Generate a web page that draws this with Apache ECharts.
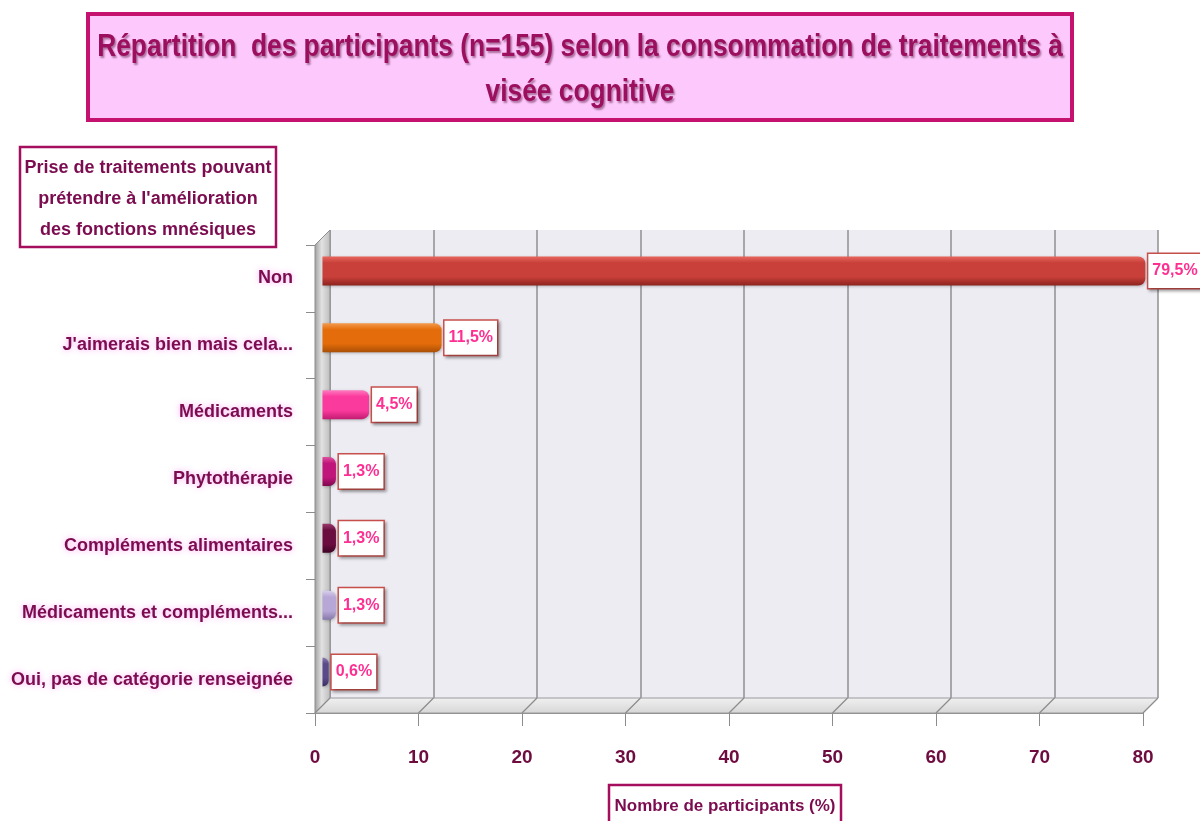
<!DOCTYPE html>
<html>
<head>
<meta charset="utf-8">
<script src="https://cdn.jsdelivr.net/npm/echarts@6/dist/echarts.min.js"></script>
<style>
  html, body { margin: 0; padding: 0; background: #ffffff; }
  #chart { width: 1200px; height: 821px; }
</style>
</head>
<body>
<div id="chart"></div>
<script>
// ---- data ----
const categories = [
  'Non',
  "J'aimerais bien mais cela...",
  'Médicaments',
  'Phytothérapie',
  'Compléments alimentaires',
  'Médicaments et compléments...',
  'Oui, pas de catégorie renseignée'
];
const percentValues = [79.5, 11.5, 4.5, 1.3, 1.3, 1.3, 0.6];
const axisMax = 80;
const axisStep = 10;
const titleLines = [
  'Répartition  des participants (n=155) selon la consommation de traitements à',
  'visée cognitive'
];
const yAxisTitleLines = [
  'Prise de traitements pouvant',
  "prétendre à l'amélioration",
  'des fonctions mnésiques'
];
const xAxisTitle = 'Nombre de participants (%)';

// ---- styles ----
const barColors = [
  ['#e8675e', '#c9403a', '#8e231e'],
  ['#f49a4c', '#e46c0a', '#a94f06'],
  ['#ff7cc0', '#fb3a9d', '#c21c72'],
  ['#e0509f', '#c0157a', '#80084f'],
  ['#9a3a6c', '#6a0e3f', '#3e0524'],
  ['#d9cfee', '#b6a7d6', '#8778ab'],
  ['#8a7ab4', '#5b4a8a', '#3a2c60']
];
const FONT = '"Liberation Sans", Arial, sans-serif';
const PLUM = '#7b0c4f';

// Plot box (front plane) and the depth shift of the pseudo-3D walls
const PLOT = { left: 315, top: 245, width: 828, height: 468 };
const DEPTH = 15;

const chart = echarts.init(document.getElementById('chart'));

function gridAt(shift, extra) {
  return Object.assign({
    left: PLOT.left + shift,
    top: PLOT.top - shift,
    width: PLOT.width,
    height: PLOT.height,
    containLabel: false
  }, extra || {});
}

function fmtPct(v) {
  return String(v).replace('.', ',') + '%';
}

// Decorative walls: left side wall, floor and the floor's slanted grid lines
function buildWalls() {
  const L = PLOT.left, T = PLOT.top, B = PLOT.top + PLOT.height, R = PLOT.left + PLOT.width;
  const els = [];
  els.push({
    type: 'polygon', z: 1,
    shape: { points: [[L, T], [L + DEPTH, T - DEPTH], [L + DEPTH, B - DEPTH], [L, B]] },
    style: {
      fill: new echarts.graphic.LinearGradient(0, 0, 1, 0, [
        { offset: 0, color: '#9d9d9d' },
        { offset: 0.45, color: '#e2e2e2' },
        { offset: 1, color: '#bcbcbc' }
      ]),
      stroke: '#8c8c8c', lineWidth: 1
    }
  });
  els.push({
    type: 'polygon', z: 1,
    shape: { points: [[L, B], [R, B], [R + DEPTH, B - DEPTH], [L + DEPTH, B - DEPTH]] },
    style: {
      fill: new echarts.graphic.LinearGradient(0, 0, 0, 1, [
        { offset: 0, color: '#f1f1f1' },
        { offset: 1, color: '#d6d6d6' }
      ]),
      stroke: '#9a9a9a', lineWidth: 1
    }
  });
  const n = axisMax / axisStep;
  for (let i = 0; i <= n; i++) {
    const x = L + PLOT.width * i / n;
    els.push({
      type: 'line', z: 2,
      shape: { x1: x, y1: B, x2: x + DEPTH, y2: B - DEPTH },
      style: { stroke: '#8c8c8c', lineWidth: 1.2 }
    });
  }
  return els;
}

function boxedText(x, y, w, h, lines, opts) {
  const cx = x + w / 2;
  const cy = opts.textY != null ? opts.textY : y + h / 2;
  return [
    {
      type: 'rect', z: 10,
      shape: { x: x, y: y, width: w, height: h },
      style: { fill: opts.fill, stroke: opts.stroke, lineWidth: opts.lineWidth }
    },
    {
      type: 'text', z: 11,
      x: cx, y: cy,
      scaleX: opts.scaleX || 1,
      style: {
        text: lines.join('\n'),
        align: 'center', verticalAlign: 'middle',
        font: 'bold ' + opts.fontSize + 'px ' + FONT,
        lineHeight: opts.lineHeight,
        fill: opts.color,
        textShadowColor: opts.shadow || 'transparent',
        textShadowBlur: opts.shadow ? 2 : 0,
        textShadowOffsetX: opts.shadow ? 1.5 : 0,
        textShadowOffsetY: opts.shadow ? 1.5 : 0
      }
    }
  ];
}

const option = {
  animation: false,
  backgroundColor: '#ffffff',
  grid: [
    gridAt(0),
    gridAt(DEPTH / 2),
    gridAt(DEPTH, { show: true, backgroundColor: '#edecf3', borderWidth: 0 })
  ],
  xAxis: [
    {
      gridIndex: 0, type: 'value', min: 0, max: axisMax, interval: axisStep,
      axisLine: { show: true, lineStyle: { color: '#8c8c8c', width: 1.2 } },
      axisTick: { show: true, length: 13, lineStyle: { color: '#8c8c8c' } },
      splitLine: { show: false },
      axisLabel: {
        margin: 35, color: '#6e0c40', fontFamily: FONT, fontWeight: 'bold', fontSize: 19
      }
    },
    {
      gridIndex: 1, type: 'value', min: 0, max: axisMax, interval: axisStep, show: false
    },
    {
      gridIndex: 2, type: 'value', min: 0, max: axisMax, interval: axisStep,
      axisLine: { show: false }, axisTick: { show: false }, axisLabel: { show: false },
      splitLine: { show: true, lineStyle: { color: '#8f8f8f', width: 1.5 } }
    }
  ],
  yAxis: [
    {
      gridIndex: 0, type: 'category', inverse: true, data: categories,
      axisLine: { show: true, lineStyle: { color: '#8c8c8c' } },
      axisTick: { show: true, length: 9, lineStyle: { color: '#8c8c8c' } },
      axisLabel: {
        margin: 22, color: PLUM, fontFamily: FONT, fontWeight: 'bold', fontSize: 18,
        padding: [6, 0, 0, 0],
        textShadowColor: '#ffa6ef', textShadowBlur: 6
      }
    },
    { gridIndex: 1, type: 'category', inverse: true, data: categories, show: false },
    { gridIndex: 2, type: 'category', inverse: true, data: categories, show: false }
  ],
  series: [
    {
      type: 'bar',
      xAxisIndex: 1, yAxisIndex: 1,
      barWidth: 29,
      z: 5,
      data: percentValues.map((v, i) => ({
        value: v,
        itemStyle: {
          color: new echarts.graphic.LinearGradient(0, 0, 0, 1, [
            { offset: 0, color: barColors[i][0] },
            { offset: 0.22, color: barColors[i][1] },
            { offset: 0.7, color: barColors[i][1] },
            { offset: 1, color: barColors[i][2] }
          ]),
          borderRadius: [0, 7, 7, 0],
          shadowColor: 'rgba(0,0,0,0.25)', shadowBlur: 3, shadowOffsetX: 1, shadowOffsetY: 1
        }
      })),
      label: {
        show: true, position: 'right', distance: 3,
        formatter: p => fmtPct(p.value),
        color: '#ff2f92', fontFamily: FONT, fontWeight: 'bold', fontSize: 16,
        backgroundColor: '#ffffff', borderColor: '#c8504c', borderWidth: 1.5,
        padding: [10, 4, 8, 4],
        shadowColor: 'rgba(0,0,0,0.3)', shadowBlur: 3, shadowOffsetX: 2, shadowOffsetY: 2
      }
    }
  ],
  graphic: [].concat(
    buildWalls(),
    boxedText(88, 14, 984, 106, titleLines, {
      fill: '#fdc9fd', stroke: '#c6126f', lineWidth: 4,
      fontSize: 31, lineHeight: 45, color: '#9c0f5e', shadow: 'rgba(70,0,35,0.45)',
      scaleX: 0.85, textY: 70
    }),
    boxedText(20, 147, 256, 100, yAxisTitleLines, {
      fill: '#ffffff', stroke: '#a50e5d', lineWidth: 2.5,
      fontSize: 18, lineHeight: 31, color: PLUM, textY: 199
    }),
    boxedText(609, 785, 232, 50, [xAxisTitle], {
      fill: '#ffffff', stroke: '#a50e5d', lineWidth: 2.5,
      fontSize: 17, lineHeight: 22, color: PLUM, textY: 806
    })
  )
};

chart.setOption(option);
</script>
</body>
</html>
